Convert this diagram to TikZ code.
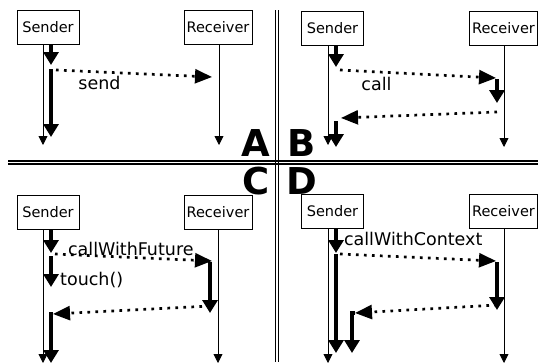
\documentclass[tikz,border=0pt]{standalone}
\usepackage{fontspec}
\setmainfont{DejaVu Sans}
\usepackage{xcolor}
\usepackage{tikz}
\usetikzlibrary{arrows.meta}
\definecolor{ink}{HTML}{000000}
\definecolor{paper}{HTML}{FFFFFF}
\tikzset{
  obj/.style={draw=ink, line width=0.9pt, fill=paper, minimum width=62pt, minimum height=34pt,
    inner sep=2pt, font=\fontsize{14.5}{16}\selectfont},
  life/.style={draw=ink, line width=0.9pt, -{Triangle[length=9pt,width=9pt]}},
  act/.style={draw=ink, line width=4pt, -{Triangle[length=13pt,width=15pt]}},
  msg/.style={draw=ink, line width=2.7pt, dash pattern=on 2.7pt off 5.3pt,
    -{Triangle[length=17pt,width=14pt]}},
  sep/.style={draw=ink, line width=1.3pt},
  lab/.style={text=ink, inner sep=0pt, font=\fontsize{17.5}{20}\selectfont},
  panel/.style={text=ink, inner sep=0pt, font=\fontsize{37}{37}\selectfont\bfseries}
}
\begin{document}
\begin{tikzpicture}[x=1pt,y=-1pt]
  \useasboundingbox (0,0) rectangle (538,362);

  % separators
  \coordinate (h1) at (8,161);   \coordinate (h2) at (538,161);
  \coordinate (h3) at (8,164);   \coordinate (h4) at (538,164);
  \coordinate (v1) at (275.5,10); \coordinate (v2) at (275.5,362);
  \coordinate (v3) at (278.5,10); \coordinate (v4) at (278.5,362);
  \draw[sep] (h1)--(h2); \draw[sep] (h3)--(h4);
  \draw[sep] (v1)--(v2); \draw[sep] (v3)--(v4);

  \node[panel] (pA) at (256,143.5) {A};
  \node[panel] (pB) at (301.5,143.5) {B};
  \node[panel] (pC) at (256,181.5) {C};
  \node[panel] (pD) at (302,181.5) {D};

  % A: send
  \node[obj] (sA) at (48,27) {Sender};
  \node[obj, minimum width=68pt] (rA) at (218,27) {Receiver};
  \coordinate (sAe) at (43,145); \coordinate (rAe) at (219,145);
  \draw[life] (sA.south -| sAe) -- (sAe);
  \draw[life] (rA.south -| rAe) -- (rAe);
  \coordinate (a1) at (51,65);
  \coordinate (a2) at (51,69); \coordinate (a3) at (51,137);
  \draw[act] (sA.south -| a1) -- (a1);
  \draw[act] (a2) -- (a3);
  \coordinate (am1) at (56,70); \coordinate (am2) at (212,77);
  \draw[msg] (am1) -- (am2);
  \node[lab] (send) at (99.5,83.3) {send};

  % B: call
  \node[obj] (sB) at (332.5,28) {Sender};
  \node[obj, minimum width=68pt] (rB) at (503.5,28) {Receiver};
  \coordinate (sBe) at (328,145); \coordinate (rBe) at (504,147);
  \draw[life] (sB.south -| sBe) -- (sBe);
  \draw[life] (rB.south -| rBe) -- (rBe);
  \coordinate (b1) at (336,67);
  \draw[act] (sB.south -| b1) -- (b1);
  \coordinate (bm1) at (340,70); \coordinate (bm2) at (496,78);
  \draw[msg] (bm1) -- (bm2);
  \coordinate (b2) at (497,79); \coordinate (b3) at (497,103);
  \draw[act] (b2) -- (b3);
  \coordinate (bm3) at (497,112); \coordinate (bm4) at (341,118);
  \draw[msg] (bm3) -- (bm4);
  \coordinate (b4) at (336,121); \coordinate (b5) at (336,147);
  \draw[act] (b4) -- (b5);
  \node[lab] (call) at (376.5,84) {call};

  % C: callWithFuture
  \node[obj] (sC) at (48,212) {Sender};
  \node[obj, minimum width=68pt] (rC) at (218,212) {Receiver};
  \coordinate (sCe) at (43,363); \coordinate (rCe) at (218,363);
  \draw[life] (sC.south -| sCe) -- (sCe);
  \draw[life] (rC.south -| rCe) -- (rCe);
  \coordinate (c1) at (51,253);
  \draw[act] (sC.south -| c1) -- (c1);
  \coordinate (cm1) at (55,254); \coordinate (cm2) at (212,261);
  \draw[msg] (cm1) -- (cm2);
  \node[lab] (cwf) at (130.8,249.3) {callWithFuture};
  \coordinate (c2) at (51,256); \coordinate (c3) at (51,287);
  \draw[act] (c2) -- (c3);
  \node[lab] (touch) at (91.7,280) {touch()};
  \coordinate (c4) at (210,262); \coordinate (c5) at (210,313);
  \draw[act] (c4) -- (c5);
  \coordinate (cm3) at (210,306); \coordinate (cm4) at (53,314);
  \draw[msg] (cm3) -- (cm4);
  \coordinate (c6) at (51,363);
  \draw[act] (cm4) -| (c6);

  % D: callWithContext
  \node[obj] (sD) at (332.5,211) {Sender};
  \node[obj, minimum width=68pt] (rD) at (503.5,211) {Receiver};
  \coordinate (sDe) at (328,363); \coordinate (rDe) at (504,363);
  \draw[life] (sD.south -| sDe) -- (sDe);
  \draw[life] (rD.south -| rDe) -- (rDe);
  \coordinate (d1) at (336,253);
  \draw[act] (sD.south -| d1) -- (d1);
  \coordinate (d2) at (336,254); \coordinate (d3) at (336,353);
  \draw[act] (d2) -- (d3);
  \coordinate (dm1) at (340,254); \coordinate (dm2) at (496,261);
  \draw[msg] (dm1) -- (dm2);
  \node[lab] (cwc) at (413.2,238.5) {callWithContext};
  \coordinate (d4) at (497,262); \coordinate (d5) at (497,310);
  \draw[act] (d4) -- (d5);
  \coordinate (dm3) at (497,305); \coordinate (dm4) at (355,313);
  \draw[msg] (dm3) -- (dm4);
  \coordinate (d6) at (352,353);
  \draw[act] (dm4) -| (d6);
\end{tikzpicture}
\end{document}
